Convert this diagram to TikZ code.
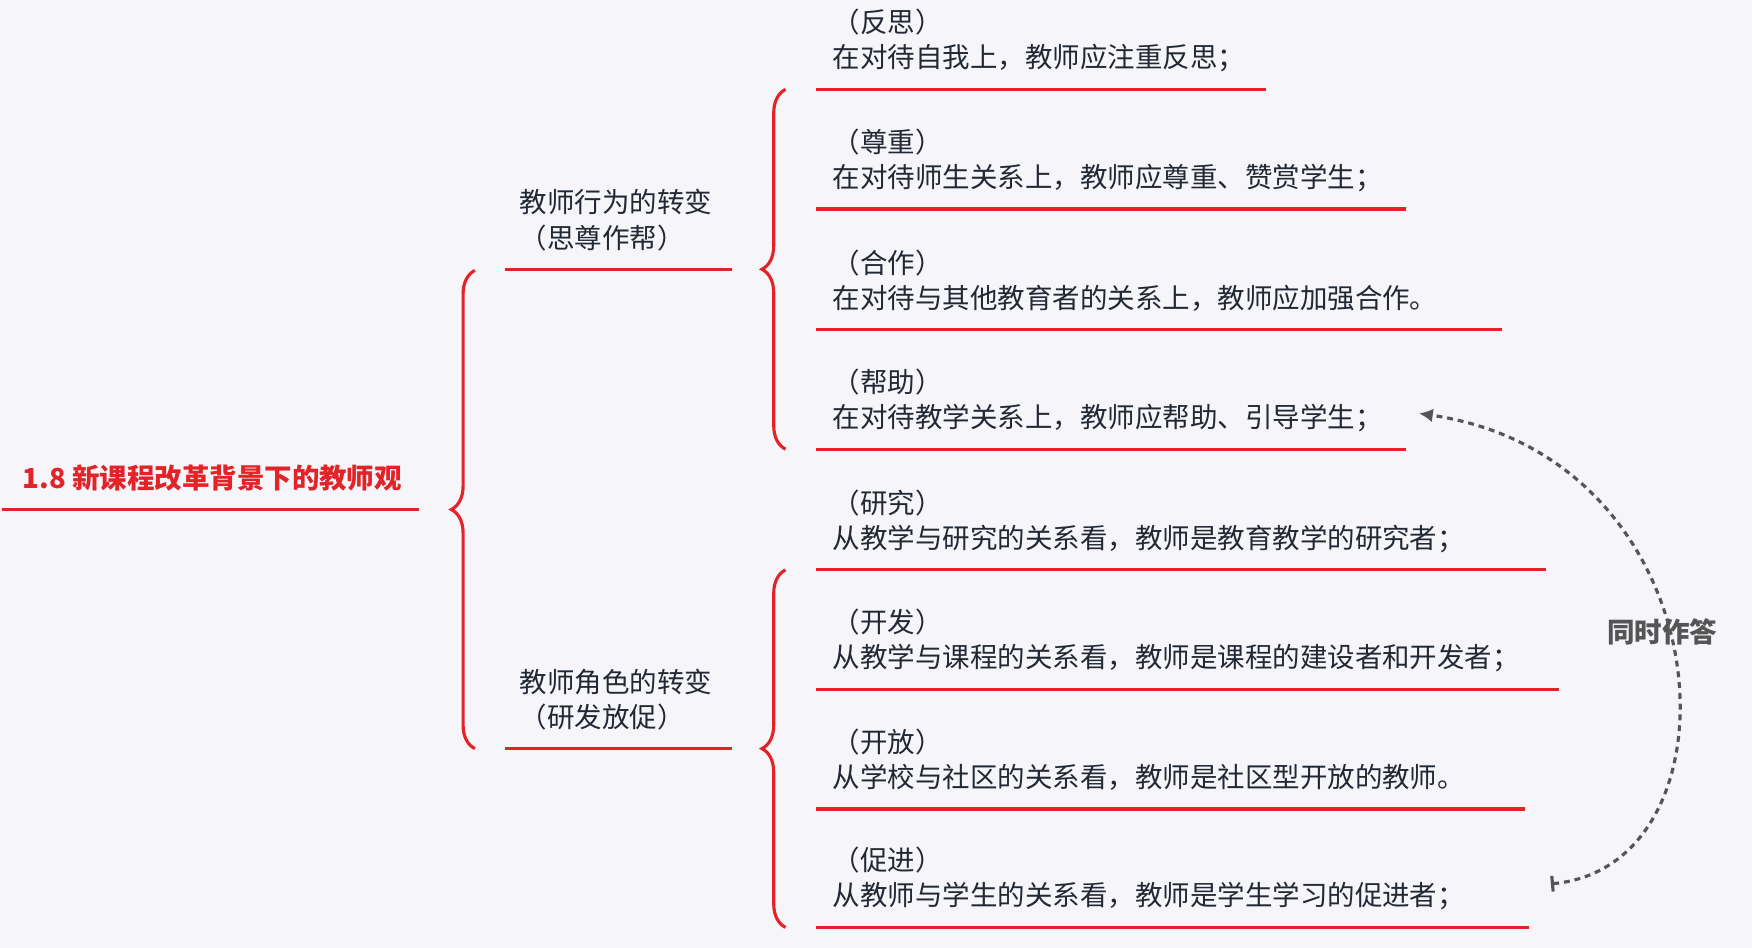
\documentclass[tikz,border=0pt]{standalone}
\usepackage{fontspec}
\setmainfont{Noto Sans CJK SC}
\usetikzlibrary{decorations.pathreplacing, arrows.meta}
\definecolor{mapred}{RGB}{226,36,40}
\definecolor{maptext}{RGB}{34,40,52}
\definecolor{mapgray}{RGB}{85,85,85}
\definecolor{mapbg}{RGB}{245,245,250}

\begin{document}
\begin{tikzpicture}[
    x=0.02cm, y=-0.02cm,
    txt/.style={anchor=west, inner sep=0pt, text=maptext, font=\fontsize{14}{16}\selectfont},
    uline/.style={draw=mapred, line width=1.6pt},
    brace/.style={draw=mapred, line width=1.6pt, decorate, decoration={brace, amplitude=12pt}}
]
    \fill[mapbg] (0,0) rectangle (1568,848);
    \useasboundingbox (0,0) rectangle (1568,848);

    % Root
    \node[txt, text=mapred, font=\fontsize{14}{16}\selectfont\bfseries] (root) at (20,428) {1.8 新课程改革背景下的教师观};
    \draw[uline] (2,456) -- (375,456);
    \draw[brace] (425,670) -- (425,242);

    % Branches
    \node[txt] (beh) at (465,181) {教师行为的转变};
    \node[txt] (behs) at (465,213) {（思尊作帮）};
    \draw[uline] (452,241) -- (655,241);
    \node[txt] (role) at (465,610) {教师角色的转变};
    \node[txt] (roles) at (465,642) {（研发放促）};
    \draw[uline] (452,670) -- (655,670);
    \draw[brace] (703,402) -- (703,80);
    \draw[brace] (703,830) -- (703,510);

    % Leaves
    \foreach \n/\y/\w/\a/\b in {
        1/80/1133/（反思）/在对待自我上，教师应注重反思；,
        2/187/1258/（尊重）/在对待师生关系上，教师应尊重、赞赏学生；,
        3/295/1344/（合作）/在对待与其他教育者的关系上，教师应加强合作。,
        4/402/1258/（帮助）/在对待教学关系上，教师应帮助、引导学生；,
        5/510/1384/（研究）/从教学与研究的关系看，教师是教育教学的研究者；,
        6/617/1395/（开发）/从教学与课程的关系看，教师是课程的建设者和开发者；,
        7/724/1365/（开放）/从学校与社区的关系看，教师是社区型开放的教师。,
        8/830/1368/（促进）/从教师与学生的关系看，教师是学生学习的促进者；}{
        \node[txt] (leaf\n a) at (745,\y-60) {\a};
        \node[txt] (leaf\n) at (745,\y-28) {\b};
        \draw[uline] (730,\y) -- (\w,\y);
    }

    % Same-time link
    \coordinate (from) at (1388,791);
    \coordinate (to) at (1270,370);
    \draw[mapgray, line width=1.6pt, dash pattern=on 3pt off 2.5pt, {Bar[width=8pt]}-{Latex[length=7pt,width=7pt]}]
        (from) .. controls (1565,775) and (1545,410) .. (to);
    \node[txt, text=mapgray, font=\fontsize{14}{16}\selectfont\bfseries] (same) at (1438,566) {同时作答};
\end{tikzpicture}
\end{document}
